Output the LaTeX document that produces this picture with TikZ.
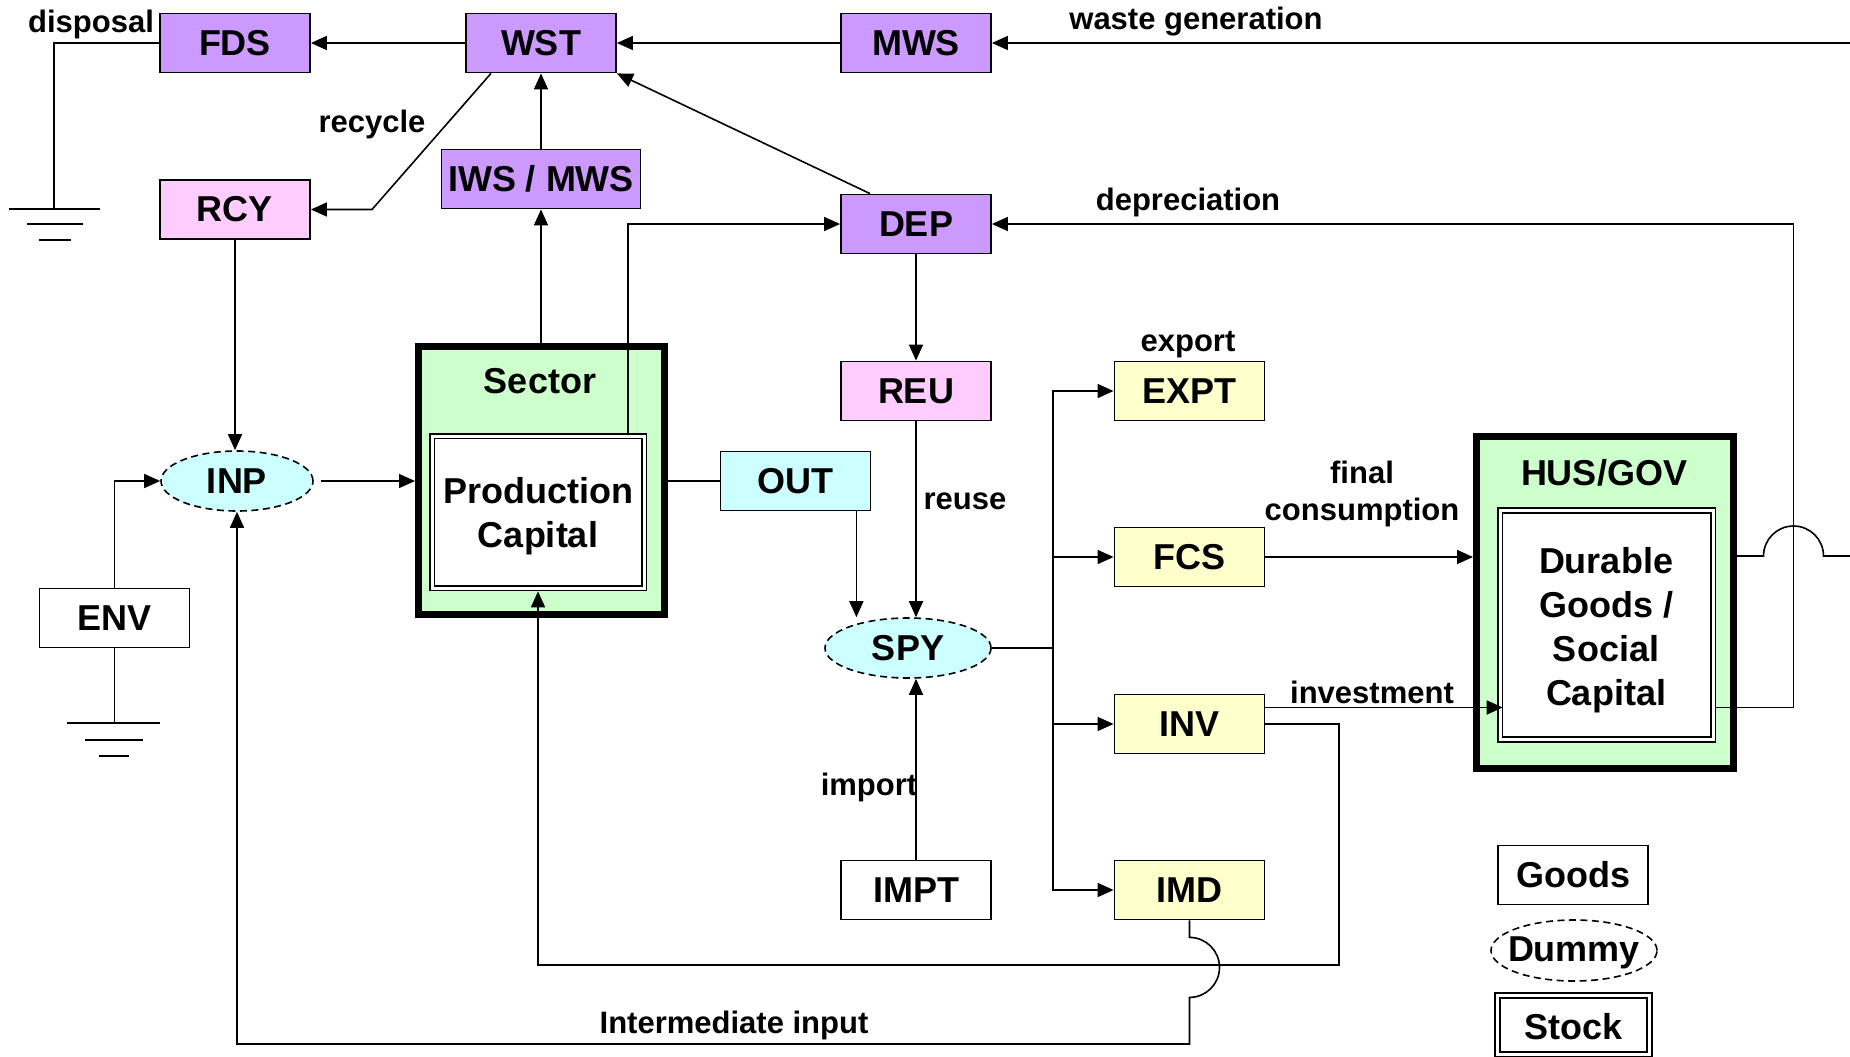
\documentclass[tikz,border=0pt]{standalone}
\usepackage{fontspec}
\setmainfont{Liberation Sans}
\usetikzlibrary{arrows.meta,shapes.geometric,calc}
\definecolor{cpurple}{HTML}{CC99FF}
\definecolor{cpink}{HTML}{FFCCFF}
\definecolor{ccyan}{HTML}{CCFFFF}
\definecolor{cyellow}{HTML}{FFFFCC}
\definecolor{cgreen}{HTML}{CCFFCC}
\tikzset{
 box/.style={draw, line width=1.8pt, minimum width=150pt, minimum height=59pt, inner sep=0pt, font=\fontsize{36}{44}\selectfont\bfseries, align=center},
 purplebox/.style={box, fill=cpurple},
 pinkbox/.style={box, fill=cpink},
 cyanbox/.style={box, fill=ccyan},
 yellowbox/.style={box, fill=cyellow},
 whitebox/.style={box, fill=white},
 dummynode/.style={ellipse, draw, dash pattern=on 7pt off 4.5pt, line width=1.6pt, minimum width=152pt, minimum height=60pt, inner sep=0pt, font=\fontsize{36}{44}\selectfont\bfseries},
 stockbox/.style={draw, double, double distance=3pt, line width=1.8pt, fill=white, inner sep=0pt, outer sep=3.3pt, font=\fontsize{36}{44}\selectfont\bfseries, align=center},
 thickbox/.style={draw, line width=7pt, fill=cgreen, inner sep=0pt},
 lbl/.style={font=\fontsize{31}{37}\selectfont\bfseries, inner sep=0pt, align=center},
 btxt/.style={font=\fontsize{36}{44}\selectfont\bfseries, inner sep=0pt, align=center},
 conn/.style={line width=1.6pt},
 arr/.style={conn, -{Triangle[length=16pt,width=14pt]}},
 gnd/.style={line width=1.8pt},
}
\begin{document}
\begin{tikzpicture}[x=1pt,y=-1pt]
\fill[white] (0,0) rectangle (1850,1057);
\useasboundingbox (0,0) rectangle (1850,1057);

% stock containers
\node[thickbox, minimum width=246pt, minimum height=268pt] (Sector) at (541.5,480.5) {};
\node[btxt] (SectorT) at (540,381) {Sector};
\node[stockbox, minimum width=212pt, minimum height=152pt] (PC) at (538,512) {};
\node[btxt] (PCT) at (538,516) {Production\\Capital};

\node[thickbox, minimum width=257pt, minimum height=332pt] (HUS) at (1605,602.5) {};
\node[btxt] (HUST) at (1604,473) {HUS/GOV};
\node[stockbox, minimum width=213pt, minimum height=229pt] (HUSin) at (1606.5,625) {};
\node[btxt] (HUSinT) at (1606,630) {Durable\\Goods /\\Social\\Capital};

% boxes
\node[purplebox] (FDS) at (235,43) {FDS};
\node[purplebox] (WST) at (541,43) {WST};
\node[purplebox] (MWS) at (916,43) {MWS};
\node[pinkbox] (RCY) at (235,209.5) {RCY};
\node[purplebox, minimum width=199pt] (IWS) at (541,179) {IWS / MWS};
\node[purplebox] (DEP) at (916,224) {DEP};
\node[pinkbox] (REU) at (916,391) {REU};
\node[cyanbox] (OUT) at (795.5,481) {OUT};
\node[whitebox] (ENV) at (114.5,618) {ENV};
\node[whitebox] (IMPT) at (916,890) {IMPT};
\node[yellowbox] (EXPT) at (1189.5,391) {EXPT};
\node[yellowbox] (FCS) at (1189.5,557) {FCS};
\node[yellowbox] (INV) at (1189.5,724) {INV};
\node[yellowbox] (IMD) at (1189.5,890) {IMD};
\node[dummynode, fill=ccyan] (INP) at (237,481) {INP};
\node[dummynode, fill=ccyan, minimum width=166pt] (SPY) at (908,648) {SPY};

% legend
\node[whitebox] (LG) at (1573,875) {Goods};
\node[dummynode, minimum width=166pt, minimum height=61pt] (LD) at (1574,950.5) {};
\node[btxt] (LDT) at (1574,953) {Dummy};
\node[stockbox, minimum width=152pt, minimum height=59pt] (LS) at (1573.5,1025) {};
\node[btxt] (LST) at (1573.5,1027) {Stock};

% labels
\node[lbl, anchor=base] (tdisp) at (91,33) {disposal};
\node[lbl, anchor=base] (trec) at (372,132) {recycle};
\node[lbl, anchor=base] (twg) at (1196,30) {waste generation};
\node[lbl, anchor=base] (tdep) at (1188,210) {depreciation};
\node[lbl, anchor=base] (texp) at (1188,351) {export};
\node[lbl, anchor=base] (treu) at (965,509) {reuse};
\node[lbl, anchor=base] (timp) at (869,795) {import};
\node[lbl] (tfc) at (1362,494) {final\\consumption};
\node[lbl, anchor=base] (tinv) at (1372,703) {investment};
\node[lbl, anchor=base] (tii) at (734,1033) {Intermediate input};

% connectors
\coordinate (wg) at (1850,43);
\draw[arr] (wg) -- (MWS.east);
\draw[arr] (MWS.west) -- (WST.east);
\draw[arr] (WST.west) -- (FDS.east);
\coordinate (g1) at (54,209);
\draw[conn] (FDS.west) -| (g1);
\draw[gnd] (9,209) -- (100,209) (27,224) -- (83,224) (39,240) -- (71,240);
\coordinate (rc) at (372,209.5);
\draw[arr] ([xshift=-50pt]WST.south) -- (rc) -- (RCY.east);
\draw[arr] (IWS.north) -- (WST.south);
\draw[arr] (IWS.south |- Sector.north) -- (IWS.south);
\draw[arr] ([xshift=-46pt]DEP.north) -- (WST.south east);
\draw[arr] ([xshift=90pt]PC.north) |- (DEP.west);
\draw[arr] (DEP.south) -- (REU.north);
\coordinate (invY) at (0,707.5);
\coordinate (depC) at (1793.5,707.5);
\draw[arr] (HUSin.east |- invY) -- (depC) |- (DEP.east);
\coordinate (hr) at (1850,556);
\draw[conn] (HUS.east |- hr) -- ($(depC |- hr)+(-30,0)$) arc[start angle=180,end angle=0,radius=30pt] -- (hr);
\draw[arr] (FCS.east) -- (HUS.west |- FCS);
\draw[arr] (INV.east |- invY) -- ([xshift=6pt]HUSin.west |- invY);
\coordinate (loopA) at (1339,965);
\draw[arr] (INV.east) -| (loopA) -| (PC.south);
\coordinate (loopB) at (1189.5,1044);
\draw[arr] (IMD.south) -- ++(0,17) arc[start angle=90,end angle=-90,radius=30pt] -- (loopB) -| (INP.south);
\coordinate (bus) at (1053,648);
\draw[conn] (SPY.east) -- (bus);
\draw[arr] (bus) |- (EXPT.west);
\draw[arr] (bus) |- (FCS.west);
\draw[arr] (bus) |- (INV.west);
\draw[arr] (bus) |- (IMD.west);
\draw[arr] (IMPT.north) -- (IMPT.north |- SPY.south);
\draw[arr] (REU.south) -- (REU.south |- SPY.north);
\coordinate (outd) at ([xshift=-15pt]OUT.south east);
\draw[arr] (outd) -- (outd |- SPY.north);
\draw[conn] (Sector.east |- OUT.west) -- (OUT.west);
\draw[arr, shorten <=7pt] (INP.east) -- (Sector.west |- INP.east);
\draw[arr] (ENV.north) |- (INP.west);
\coordinate (g2) at (114.5,723);
\draw[conn] (ENV.south) -- (g2);
\draw[gnd] (67,723) -- (160,723) (85,740) -- (143,740) (99,756) -- (129,756);
\draw[arr] (RCY.south) -- (RCY.south |- INP.north);
\end{tikzpicture}
\end{document}
